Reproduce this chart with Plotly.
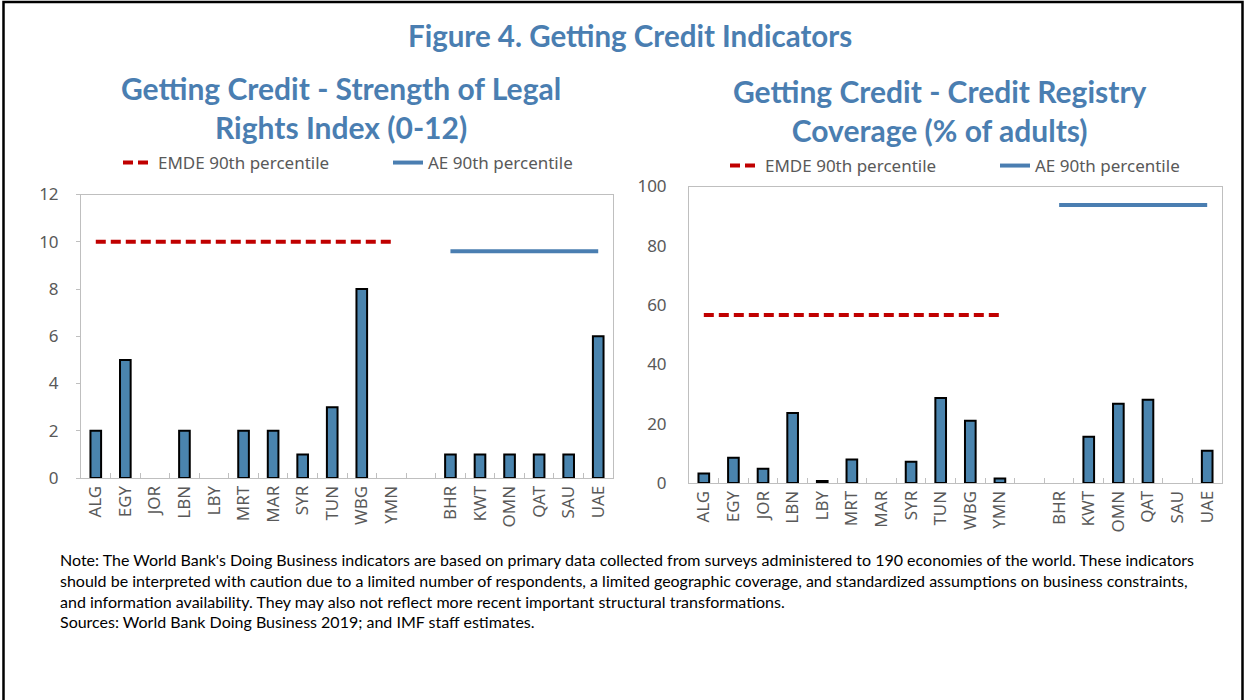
import plotly.graph_objects as go

emde = ["ALG", "EGY", "JOR", "LBN", "LBY", "MRT", "MAR", "SYR", "TUN", "WBG", "YMN"]
ae = ["BHR", "KWT", "OMN", "QAT", "SAU", "UAE"]
categories = emde + [" "] + ae

legal_emde = [2, 5, 0, 2, 0, 2, 2, 1, 3, 8, 0]
legal_ae = [1, 1, 1, 1, 1, 6]
legal_emde_p90 = 10
legal_ae_p90 = 9.6

registry_emde = [3.2, 8.5, 4.8, 23.6, 0.7, 7.9, 0, 7.2, 28.7, 21.0, 1.5]
registry_ae = [0, 15.6, 26.7, 28.1, 0, 10.9]
registry_emde_p90 = 56.7
registry_ae_p90 = 93.8

BAR = "#4A84AE"
RED = "#C00000"
BLUE = "#4A7EB1"
TITLE = "#4A7EB1"
GREY = "#595959"

fig = go.Figure()


def add_panel(fig, xa, ya, legend, emde_vals, ae_vals, emde_p90, ae_p90):
    vals = emde_vals + ae_vals
    # no outline on zero bars, otherwise they show up as a black stub
    outline = [2 if v > 0 else 0 for v in vals]
    fig.add_trace(go.Bar(
        x=emde + ae, y=vals, xaxis=xa, yaxis=ya,
        width=0.36, marker=dict(color=BAR, line=dict(color="black", width=outline)),
        showlegend=False
    ))
    fig.add_trace(go.Scatter(
        x=emde, y=[emde_p90] * len(emde), xaxis=xa, yaxis=ya, mode="lines",
        line=dict(color=RED, width=4, dash="10px,5px"), name="EMDE 90th percentile",
        legend=legend
    ))
    fig.add_trace(go.Scatter(
        x=ae, y=[ae_p90] * len(ae), xaxis=xa, yaxis=ya, mode="lines",
        line=dict(color=BLUE, width=4), name="AE 90th percentile",
        legend=legend
    ))


add_panel(fig, "x", "y", "legend", legal_emde, legal_ae, legal_emde_p90, legal_ae_p90)
add_panel(fig, "x2", "y2", "legend2", registry_emde, registry_ae, registry_emde_p90, registry_ae_p90)

W, H = 1246, 700

xaxis_common = dict(
    type="category", categoryorder="array", categoryarray=categories,
    tickangle=-90, tickfont=dict(family="Noto Sans", size=17, color=GREY),
    showline=True, linecolor="#BFBFBF", linewidth=1, mirror=True,
    ticks="inside", tickson="boundaries", ticklen=5, tickcolor="#BFBFBF",
    showgrid=False, zeroline=False, range=[-0.5, 17.5],
)
yaxis_common = dict(
    tickfont=dict(family="Noto Sans", size=17, color=GREY),
    showline=True, linecolor="#BFBFBF", linewidth=1, mirror=True,
    showgrid=False, zeroline=False,
)
legend_common = dict(
    orientation="h", xanchor="left", yanchor="middle",
    font=dict(family="Noto Sans", size=17, color=GREY),
    entrywidth=225, entrywidthmode="pixels", bgcolor="rgba(0,0,0,0)",
)

fig.update_layout(
    width=W, height=H,
    margin=dict(l=0, r=0, t=0, b=0, autoexpand=False),
    paper_bgcolor="white", plot_bgcolor="white",
    xaxis=dict(xaxis_common, domain=[81 / W, 613 / W], anchor="y"),
    yaxis=dict(yaxis_common, domain=[1 - 478 / H, 1 - 194.5 / H], range=[0, 12],
               dtick=2, anchor="x", ticks="outside", ticklen=4, tickcolor="#BFBFBF",
               ticklabelstandoff=14),
    xaxis2=dict(xaxis_common, domain=[689 / W, 1222 / W], anchor="y2"),
    yaxis2=dict(yaxis_common, domain=[1 - 483 / H, 1 - 186.5 / H], range=[0, 100],
                dtick=20, anchor="x2", ticks="", ticklabelstandoff=18),
    legend=dict(legend_common, x=118 / W, y=1 - 163 / H),
    legend2=dict(legend_common, x=725 / W, y=1 - 166 / H),
    shapes=[dict(type="rect", xref="paper", yref="paper", x0=3.5 / W, x1=1 - 3.5 / W,
                 y0=-0.05, y1=1 - 2 / H, line=dict(color="black", width=2.5))],
)

fig.add_annotation(
    text="<b>Figure 4. Getting Credit Indicators</b>", xref="paper", yref="paper",
    x=630 / W, y=1 - 36 / H, xanchor="center", yanchor="middle", showarrow=False,
    font=dict(family="Lato", size=29.5, color=TITLE)
)
fig.add_annotation(
    text="<b>Getting Credit - Strength of Legal<br>Rights Index (0-12)</b>",
    xref="paper", yref="paper", x=341 / W, y=1 - 108 / H, xanchor="center",
    yanchor="middle", showarrow=False, align="center",
    font=dict(family="Lato", size=30, color=TITLE)
)
fig.add_annotation(
    text="<b>Getting Credit - Credit Registry<br>Coverage (% of adults)</b>",
    xref="paper", yref="paper", x=940 / W, y=1 - 110 / H, xanchor="center",
    yanchor="middle", showarrow=False, align="center",
    font=dict(family="Lato", size=30, color=TITLE)
)

note = ("Note: The World Bank's Doing Business indicators are based on primary data collected from surveys administered to 190 economies of the world. These indicators<br>"
        "should be interpreted with caution due to a limited number of respondents, a limited geographic coverage, and standardized assumptions on business constraints,<br>"
        "and information availability. They may also not reflect more recent important structural transformations.<br>"
        "Sources: World Bank Doing Business 2019; and IMF staff estimates.")
fig.add_annotation(
    text=note, xref="paper", yref="paper", x=58 / W, y=1 - 548 / H,
    xanchor="left", yanchor="top", showarrow=False, align="left",
    font=dict(family="Lato", size=16, color="black")
)

fig.write_html(
    "out.html",
    config={"displayModeBar": False},
    post_script="document.body.style.margin = '0px'; document.body.style.overflow = 'hidden';"
)
